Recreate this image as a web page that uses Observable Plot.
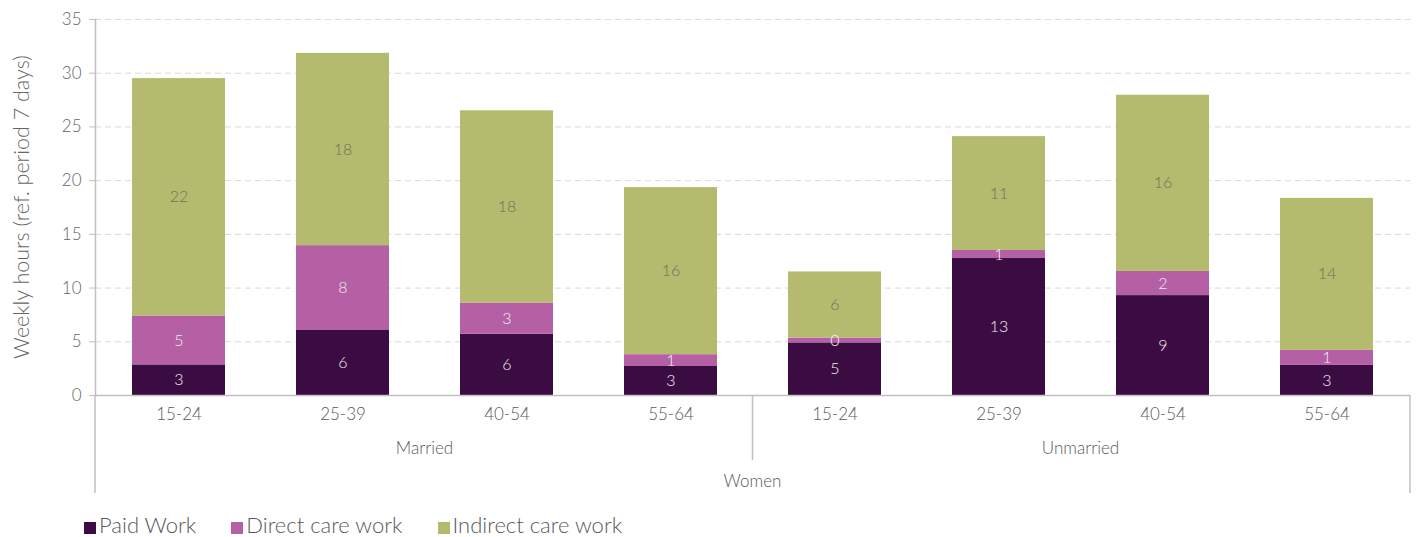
<!DOCTYPE html>
<html><head><meta charset="utf-8">
<script src="https://cdn.jsdelivr.net/npm/d3@7"></script>
<script src="https://cdn.jsdelivr.net/npm/@observablehq/plot@0.6"></script>
<style>
body{margin:0;background:#fff;font-family:Lato,"Open Sans",sans-serif;overflow:hidden;}
#legend{display:flex;align-items:center;margin-left:84px;margin-top:9px;font-size:22px;line-height:22px;height:22px;font-weight:300;color:#595959;}
#legend .item{display:flex;align-items:center;margin-right:35px;}
#legend .sw{width:12px;height:12px;margin-right:3px;margin-top:5px;}
</style></head><body><div id="chart"></div><div id="legend"></div>
<script>
const groups = ["Married","Married","Married","Married","Unmarried","Unmarried","Unmarried","Unmarried"];
const ages = ["15-24","25-39","40-54","55-64","15-24","25-39","40-54","55-64"];
const outerGroup = "Women";
const seriesNames = ["Paid Work","Direct care work","Indirect care work"];
const paidWork = [2.85, 6.05, 5.7, 2.7, 4.9, 12.75, 9.3, 2.8];
const directCare = [4.55, 7.9, 2.9, 1.1, 0.45, 0.75, 2.25, 1.4];
const indirectCare = [22.1, 17.9, 17.9, 15.55, 6.15, 10.6, 16.4, 14.15];
const seriesColors = ["#3b0c42","#b55fa5","#b4bb6e"];
const yTicks = [0,5,10,15,20,25,30,35];
const yLabel = "Weekly hours (ref. period 7 days)";

const keys = groups.map((g,i) => g + "|" + ages[i]);
const seriesValues = [paidWork, directCare, indirectCare];
const data = [];
seriesNames.forEach((s, si) => keys.forEach((k, i) => data.push({key: k, series: s, value: seriesValues[si][i]})));
const fmt = d3.format(".0f");

const W = 1416, H = 505;
const plot = Plot.plot({
  width: W, height: H,
  marginLeft: 95, marginRight: 6, marginTop: 19, marginBottom: 110,
  style: {fontFamily: "Lato, 'Open Sans', sans-serif", fontSize: "17px", fontWeight: 300, color: "#595959", background: "#fff", display: "block"},
  x: {domain: keys, paddingInner: 0.43, paddingOuter: 0.215, label: null},
  y: {domain: [0, 35], label: null},
  color: {domain: seriesNames, range: seriesColors},
  marks: [
    Plot.gridY(yTicks.filter(d => d > 0), {stroke: "#d9d9d9", strokeOpacity: 1, strokeDasharray: "6,4"}),
    Plot.barY(data, Plot.stackY({x: "key", y: "value", fill: "series", order: seriesNames})),
    Plot.text(data, Plot.stackY({x: "key", y: "value", z: "series", order: seriesNames,
      text: d => d.series === "Indirect care work" ? "" : fmt(d.value), fill: "#f0f0f0", fontSize: 16})),
    Plot.text(data, Plot.stackY({x: "key", y: "value", z: "series", order: seriesNames,
      text: d => d.series === "Indirect care work" ? fmt(d.value) : "", fill: "#6f6f5f", fontSize: 16})),
    Plot.ruleY([0], {stroke: "#bfbfbf", strokeWidth: 1.5}),
    Plot.frame({anchor: "left", stroke: "#bfbfbf", strokeWidth: 1.5}),
    Plot.axisY({ticks: yTicks, tickSize: 6, tickPadding: 8, stroke: "#bfbfbf", fill: "#666", label: null, fontSize: 17}),
    Plot.axisX({tickSize: 0, tickPadding: 12, tickFormat: d => d.split("|")[1], fill: "#595959", label: null, fontSize: 17})
  ]
});
document.getElementById("chart").appendChild(plot);

// multi-level category axis annotations, positioned from the plot's own scales
const xs = plot.scale("x"), ys = plot.scale("y");
const bw = xs.bandwidth, step = xs.step;
const y0 = ys.apply(0);
const svg = d3.select(plot);
const left = 95, right = W - 6;
const uniqGroups = [...new Set(groups)];
const g = svg.append("g").attr("font-family", "Lato, 'Open Sans', sans-serif").attr("font-weight", 300).attr("font-size", 17).attr("fill", "#595959").attr("text-anchor", "middle");
const lineStyle = sel => sel.attr("stroke", "#bfbfbf").attr("stroke-width", 1.5);
[left, right].forEach(x => lineStyle(g.append("line").attr("x1", x).attr("x2", x).attr("y1", y0).attr("y2", y0 + 98)));
uniqGroups.forEach((grp, gi) => {
  const ks = keys.filter((k, i) => groups[i] === grp);
  const c = d3.mean(ks, k => xs.apply(k) + bw / 2);
  g.append("text").attr("x", c).attr("y", y0 + 59).text(grp);
  if (gi > 0) {
    const bx = xs.apply(ks[0]) - (step - bw) / 2;
    lineStyle(g.append("line").attr("x1", bx).attr("x2", bx).attr("y1", y0).attr("y2", y0 + 65));
  }
});
g.append("text").attr("x", (left + right) / 2).attr("y", y0 + 92).text(outerGroup);
// y-axis title centred on the y range
const yMid = (ys.apply(0) + ys.apply(35)) / 2;
g.append("text").attr("transform", `translate(29,${yMid}) rotate(-90)`).attr("font-size", 21.5).attr("fill", "#666").text(yLabel);

const legend = d3.select("#legend");
seriesNames.forEach((s, i) => {
  const it = legend.append("div").attr("class", "item");
  it.append("div").attr("class", "sw").style("background", seriesColors[i]);
  it.append("span").text(s);
});
</script></body></html>
